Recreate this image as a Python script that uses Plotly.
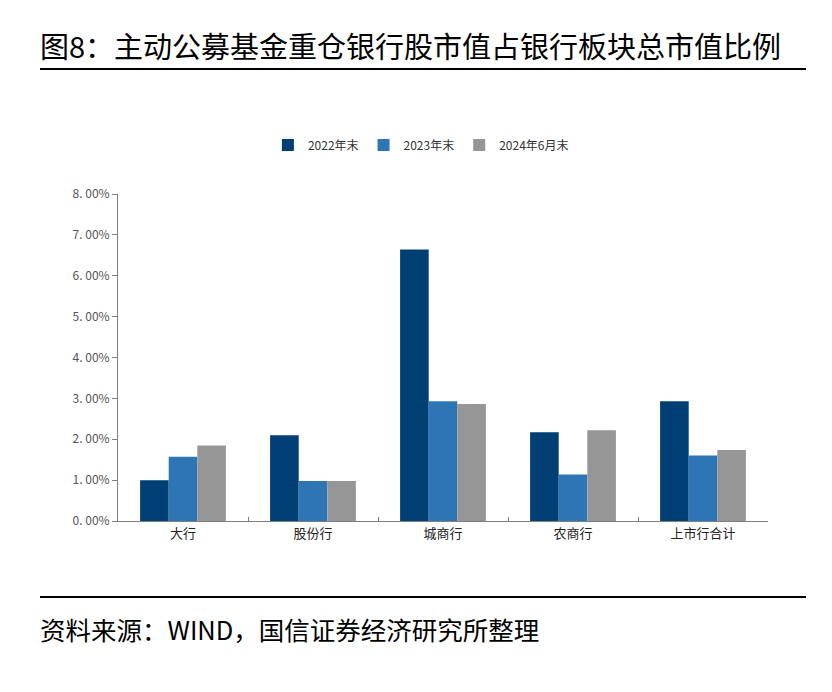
import plotly.graph_objects as go

categories = ["大行", "股份行", "城商行", "农商行", "上市行合计"]
series_names = ["2022年末", "2023年末", "2024年6月末"]
values_2022 = [1.00, 2.10, 6.64, 2.17, 2.93]
values_2023 = [1.57, 0.98, 2.93, 1.14, 1.60]
values_2024h1 = [1.85, 0.98, 2.86, 2.22, 1.74]
colors = ["#003F73", "#2E75B6", "#969696"]
tick_vals = [0, 1, 2, 3, 4, 5, 6, 7, 8]
tick_text = ["0. 00%", "1. 00%", "2. 00%", "3. 00%", "4. 00%", "5. 00%", "6. 00%", "7. 00%", "8. 00%"]

cjk = "Noto Sans CJK SC"
fig = go.Figure()
for name, vals, c in zip(series_names, [values_2022, values_2023, values_2024h1], colors):
    fig.add_trace(go.Bar(x=categories, y=vals, name=name, marker=dict(color=c, line=dict(width=0))))

fig.update_layout(
    width=832, height=692,
    margin=dict(l=118, r=64, t=194, b=171),
    paper_bgcolor="white", plot_bgcolor="white",
    barmode="group", bargap=0.34, bargroupgap=0,
    font=dict(family=cjk, color="#333333", size=12),
    showlegend=True,
    legend=dict(orientation="h", x=0.466, xanchor="center", y=1.15, yanchor="middle",
                font=dict(size=12, color="#333333"), itemwidth=30, traceorder="normal",
                entrywidth=0, tracegroupgap=0),
    xaxis=dict(showline=True, linecolor="#7f7f7f", linewidth=1, ticks="inside", ticklen=4,
               tickcolor="#7f7f7f", tickson="boundaries", showgrid=False,
               tickfont=dict(size=13, color="#222222")),
    yaxis=dict(range=[0, 8], tickvals=tick_vals, ticktext=tick_text, showline=True,
               linecolor="#7f7f7f", linewidth=1, ticks="outside", ticklen=5, tickcolor="#7f7f7f",
               showgrid=False, zeroline=False, tickfont=dict(size=12, color="#555555")),
)

fig.add_annotation(text="图8：主动公募基金重仓银行股市值占银行板块总市值比例", xref="paper", yref="paper",
                   x=(38 - 118) / 650, y=(521 - 45) / 327, xanchor="left", yanchor="middle",
                   showarrow=False, font=dict(family=cjk, size=29, color="#000000"))
fig.add_annotation(text="资料来源：WIND，国信证券经济研究所整理", xref="paper", yref="paper",
                   x=(38 - 118) / 650, y=(521 - 628) / 327, xanchor="left", yanchor="middle",
                   showarrow=False, font=dict(family=cjk, size=25.5, color="#000000"))
fig.add_shape(type="line", xref="paper", yref="paper", x0=(40 - 118) / 650, x1=(806 - 118) / 650,
              y0=(521 - 69) / 327, y1=(521 - 69) / 327, line=dict(color="#000000", width=2))
fig.add_shape(type="line", xref="paper", yref="paper", x0=(40 - 118) / 650, x1=(806 - 118) / 650,
              y0=(521 - 597) / 327, y1=(521 - 597) / 327, line=dict(color="#000000", width=2))

fig.write_html("out.html")
